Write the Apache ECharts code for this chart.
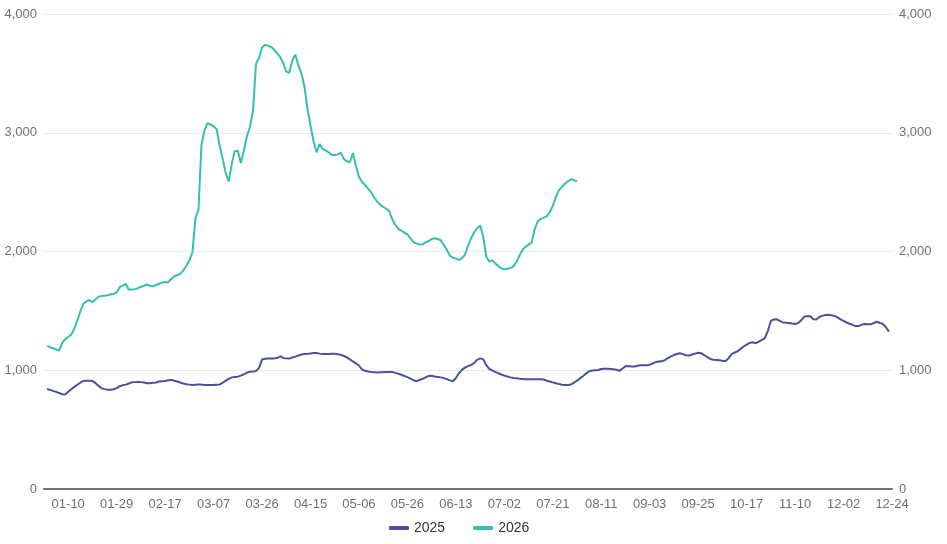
<!DOCTYPE html>
<html>
<head>
<meta charset="utf-8">
<title>2025 vs 2026</title>
<script src="https://cdn.jsdelivr.net/npm/echarts@6/dist/echarts.min.js"></script>
<style>
    html, body { margin: 0; padding: 0; background: #fff; }
    #chart { width: 947px; height: 544px; }
</style>
</head>
<body>
<div id="chart"></div>
<script>
// trading dates (MM-DD) of both years merged
var dates = [
    '01-01', '01-02', '01-03', '01-05', '01-06', '01-07', '01-08', '01-09', '01-10', '01-12',
    '01-13', '01-14', '01-15', '01-16', '01-17', '01-19', '01-20', '01-21', '01-22', '01-23',
    '01-24', '01-26', '01-27', '01-28', '01-29', '01-30', '01-31', '02-02', '02-03', '02-04',
    '02-05', '02-06', '02-07', '02-09', '02-10', '02-11', '02-12', '02-13', '02-14', '02-16',
    '02-17', '02-18', '02-19', '02-20', '02-21', '02-23', '02-24', '02-25', '02-26', '02-27',
    '02-28', '03-02', '03-03', '03-04', '03-05', '03-06', '03-07', '03-09', '03-10', '03-11',
    '03-12', '03-13', '03-14', '03-16', '03-17', '03-18', '03-19', '03-20', '03-21', '03-23',
    '03-24', '03-25', '03-26', '03-27', '03-28', '03-30', '03-31', '04-01', '04-02', '04-03',
    '04-04', '04-07', '04-08', '04-09', '04-10', '04-11', '04-13', '04-14', '04-15', '04-16',
    '04-17', '04-20', '04-21', '04-22', '04-23', '04-24', '04-25', '04-27', '04-28', '04-29',
    '04-30', '05-01', '05-02', '05-05', '05-06', '05-07', '05-08', '05-09', '05-11', '05-12',
    '05-13', '05-14', '05-15', '05-16', '05-18', '05-19', '05-20', '05-21', '05-22', '05-23',
    '05-26', '05-27', '05-28', '05-29', '05-30', '06-01', '06-02', '06-03', '06-04', '06-05',
    '06-06', '06-08', '06-09', '06-10', '06-11', '06-12', '06-13', '06-15', '06-16', '06-17',
    '06-18', '06-19', '06-20', '06-22', '06-23', '06-24', '06-25', '06-26', '06-27', '06-29',
    '06-30', '07-01', '07-02', '07-03', '07-04', '07-06', '07-07', '07-08', '07-09', '07-10',
    '07-11', '07-13', '07-14', '07-15', '07-16', '07-17', '07-18', '07-20', '07-21', '07-22',
    '07-23', '07-24', '07-25', '07-27', '07-28', '07-29', '07-30', '07-31', '08-01', '08-04',
    '08-05', '08-06', '08-07', '08-08', '08-11', '08-12', '08-13', '08-14', '08-15', '08-18',
    '08-19', '08-20', '08-21', '08-22', '08-26', '08-27', '08-28', '08-29', '09-01', '09-02',
    '09-03', '09-04', '09-05', '09-08', '09-09', '09-10', '09-11', '09-12', '09-15', '09-16',
    '09-17', '09-18', '09-19', '09-22', '09-23', '09-24', '09-25', '09-26', '09-29', '09-30',
    '10-01', '10-02', '10-03', '10-06', '10-07', '10-08', '10-09', '10-10', '10-13', '10-14',
    '10-15', '10-16', '10-17', '10-20', '10-21', '10-22', '10-23', '10-24', '10-27', '10-28',
    '10-29', '10-30', '10-31', '11-03', '11-04', '11-05', '11-06', '11-07', '11-10', '11-11',
    '11-12', '11-13', '11-14', '11-17', '11-18', '11-19', '11-20', '11-21', '11-24', '11-25',
    '11-26', '11-27', '11-28', '12-01', '12-02', '12-03', '12-04', '12-05', '12-08', '12-09',
    '12-10', '12-11', '12-12', '12-15', '12-16', '12-17', '12-18', '12-19', '12-22', '12-23',
    '12-24'
];

var values2025 = [
    null, 842, 835, 826, 818, 808, 798, 795, 818, 840,
    860, 878, 895, 910, 911, 912, 910, 892, 868, 849,
    841, 836, 836, 840, 850, 866, 873, 879, 888, 898,
    900, 901, 900, 896, 891, 891, 894, 897, 905, 908,
    909, 916, 919, 912, 905, 897, 889, 882, 879, 876,
    878, 880, 879, 876, 876, 875, 876, 878, 880, 895,
    912, 928, 940, 943, 946, 955, 966, 980, 987, 989,
    993, 1020, 1090, 1097, 1099, 1100, 1100, 1103, 1118, 1104,
    1100, 1098, 1107, 1115, 1124, 1133, 1136, 1138, 1141, 1146,
    1145, 1140, 1137, 1137, 1137, 1139, 1140, 1135, 1130, 1120,
    1108, 1092, 1074, 1058, 1040, 1006, 995, 989, 986, 984,
    982, 983, 984, 985, 985, 985, 978, 970, 962, 952,
    942, 930, 916, 908, 918, 928, 940, 952, 953, 948,
    944, 940, 934, 925, 915, 906, 935, 975, 1003, 1022,
    1035, 1045, 1060, 1088, 1100, 1092, 1045, 1012, 998, 987,
    975, 964, 955, 947, 940, 935, 932, 929, 927, 925,
    925, 924, 924, 924, 924, 922, 912, 905, 898, 891,
    885, 878, 876, 876, 880, 895, 913, 932, 951, 972,
    991, 998, 1000, 1002, 1010, 1012, 1013, 1011, 1009, 1004,
    995, 1015, 1033, 1035, 1031, 1031, 1038, 1042, 1043, 1043,
    1046, 1058, 1069, 1073, 1075, 1085, 1103, 1117, 1128, 1137,
    1143, 1136, 1126, 1124, 1132, 1140, 1147, 1144, 1128, 1110,
    1095, 1088, 1087, 1085, 1080, 1076, 1100, 1135, 1148, 1160,
    1180, 1200, 1215, 1230, 1236, 1228, 1240, 1255, 1270, 1330,
    1415, 1428, 1429, 1415, 1403, 1400, 1397, 1393, 1389, 1398,
    1420, 1450, 1456, 1455, 1430, 1428, 1448, 1458, 1466, 1467,
    1463, 1458, 1445, 1428, 1415, 1402, 1392, 1382, 1372, 1372,
    1384, 1390, 1388, 1387, 1398, 1408, 1398, 1390, 1362, 1325,
    null
];

var values2026 = [
    null, 1205, 1195, 1185, 1175, 1165, 1230, 1262, 1280, 1300,
    1350, 1420, 1495, 1560, 1580, 1592, 1572, 1595, 1620, 1625,
    1628, 1632, 1640, 1643, 1655, 1700, 1712, 1728, 1678, 1680,
    1682, 1692, 1703, 1712, 1722, 1712, 1708, 1718, 1728, 1740,
    1742, 1742, 1768, 1792, 1800, 1812, 1840, 1882, 1925, 1990,
    2280, 2350, 2900, 3020, 3080, 3070, 3055, 3030, 2890, 2780,
    2660, 2590, 2740, 2845, 2848, 2745, 2850, 2970, 3050, 3180,
    3580, 3630, 3720, 3740, 3732, 3722, 3700, 3668, 3638, 3585,
    3515, 3505, 3610, 3658, 3565, 3500, 3390, 3200, 3060, 2930,
    2835, 2905, 2865, 2852, 2835, 2813, 2812, 2818, 2832, 2780,
    2760, 2752, 2830, 2720, 2630, 2585, 2560, 2530, 2500, 2455,
    2420, 2395, 2375, 2360, 2340, 2270, 2225, 2190, 2175, 2158,
    2145, 2110, 2078, 2068, 2058, 2060, 2078, 2088, 2105, 2112,
    2105, 2095, 2055, 2015, 1965, 1948, 1940, 1930, 1945, 1972,
    2050, 2110, 2160, 2195, 2220, 2130, 1960, 1915, 1925, 1900,
    1878, 1858, 1850, 1855, 1862, 1875, 1912, 1965, 2015, 2040,
    2058, 2075, 2185, 2255, 2275, 2285, 2297, 2330, 2385, 2460,
    2515, 2545, 2570, 2592, 2608, 2602, 2588
];

var yTicks = [0, 1000, 2000, 3000, 4000];

var chart = echarts.init(document.getElementById('chart'));

var labelColor = '#6e7079';

function makeYAxis(pos, showSplit) {
    return {
        type: 'value',
        position: pos,
        min: yTicks[0],
        max: yTicks[yTicks.length - 1],
        interval: yTicks[1] - yTicks[0],
        axisLine: { show: false },
        axisTick: { show: false },
        axisLabel: { color: labelColor, fontSize: 13, margin: 7 },
        splitLine: { show: showSplit, lineStyle: { color: '#e6e8f2' } }
    };
}

var option = {
    animation: false,
    color: ['#4a5299', '#36bfae'],
    grid: { left: 44, right: 55, top: 14, bottom: 55 },
    legend: {
        bottom: 4,
        left: 384,
        icon: 'roundRect',
        itemWidth: 20,
        itemHeight: 4,
        itemGap: 28,
        textStyle: { color: '#333', fontSize: 14 },
        data: ['2025', '2026']
    },
    xAxis: {
        type: 'category',
        boundaryGap: false,
        data: dates,
        axisLine: { lineStyle: { color: '#6e7079', width: 2 } },
        axisTick: { show: false },
        axisLabel: {
            color: labelColor,
            fontSize: 13,
            margin: 9,
            interval: function (i) { return i % 16 === 8; }
        }
    },
    yAxis: [makeYAxis('left', true), makeYAxis('right', false)],
    series: [
        {
            name: '2025',
            type: 'line',
            yAxisIndex: 0,
            data: values2025,
            showSymbol: false,
            lineStyle: { width: 2 }
        },
        {
            name: '2026',
            type: 'line',
            yAxisIndex: 1,
            data: values2026,
            showSymbol: false,
            lineStyle: { width: 2 }
        }
    ]
};

chart.setOption(option);
</script>
</body>
</html>
